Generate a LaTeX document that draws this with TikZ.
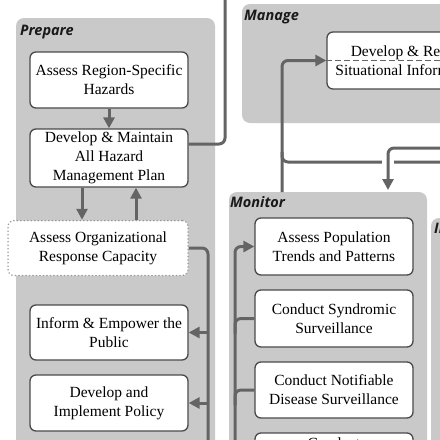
\documentclass[tikz,border=0pt]{standalone}
\usepackage{fontspec}
\setmainfont{Liberation Serif}
\newfontfamily\labfont{Open Sans}
\usetikzlibrary{arrows.meta,calc}
\definecolor{panel}{HTML}{C9C9C9}
\definecolor{linecol}{HTML}{646464}
\definecolor{bord}{HTML}{4A4A4A}
\begin{document}
\begin{tikzpicture}[x=1pt,y=-1pt,
  panelbox/.style={fill=panel, draw=none, rounded corners=8pt},
  plabel/.style={font=\labfont\bfseries\itshape\fontsize{14.5}{16}\selectfont, anchor=base west, inner sep=0pt, text=black!90},
  box/.style={draw=bord, line width=1.3pt, fill=white, rounded corners=6pt, align=center, inner sep=0pt, minimum width=158pt, font=\fontsize{15.5}{19}\selectfont, text=black},
  dotbox/.style={box, draw=gray!80, dash pattern=on 0.3pt off 3.2pt, line cap=round, line width=1.5pt, minimum width=180pt},
  conn/.style={draw=linecol, line width=3pt, rounded corners=6pt},
  arr/.style={conn, -{Triangle[length=11pt,width=11pt]}},
  dline/.style={draw=linecol, line width=1.6pt, dash pattern=on 6pt off 3pt}]
\useasboundingbox (0,0) rectangle (440,440);
\clip (0,0) rectangle (440,440);
\fill[white] (0,0) rectangle (440,440);
% panels
\path[panelbox] (16,18) rectangle (215,470);
\path[panelbox] (242,4) rectangle (480,123);
\path[panelbox] (229,192) rectangle (427,470);
\path[panelbox] (431,218) rectangle (490,470);
\node[plabel] (lprep) at (20,35) {Prepare};
\node[plabel] (lman) at (244,20) {Manage};
\node[plabel] (lmon) at (230,207) {Monitor};
\node[plabel] (lint) at (434,233) {Intervene};
% prepare boxes
\node[box, minimum height=56pt] (b1) at (109,80) {Assess Region-Specific\\Hazards};
\node[box, minimum height=58pt] (b2) at (109,158) {Develop \& Maintain\\All Hazard\\Management Plan};
\node[dotbox, minimum height=55pt] (b3) at (98,248) {Assess Organizational\\Response Capacity};
\node[box, minimum height=55pt] (b4) at (109,332.5) {Inform \& Empower the\\Public};
\node[box, minimum height=56pt] (b5) at (109,403) {Develop and\\Implement Policy};
% manage box
\node[box, minimum width=162pt, minimum height=57pt] (m1) at (408,60.5) {Develop \& Report\\Situational Information};
% monitor boxes
\node[box, minimum height=57pt] (ma) at (334,246.5) {Assess Population\\Trends and Patterns};
\node[box, minimum height=57pt] (mb) at (334,318.5) {Conduct Syndromic\\Surveillance};
\node[box, minimum height=56pt] (mc) at (334,390) {Conduct Notifiable\\Disease Surveillance};
\node[box, minimum height=58pt] (md) at (334,462) {Conduct\\\phantom{X}\\\phantom{X}};
% coordinates
\coordinate (topA) at (225,0);
\coordinate (pr) at (208,470);
\coordinate (ml) at (235,470);
\coordinate (mt) at (282,192);
\coordinate (r1) at (445,162);
\coordinate (r2) at (445,148);
\coordinate (mt2) at (388,190);
% prepare connectors
\draw[arr] (b1.south) -- (b2.north);
\draw[arr] ([xshift=-27pt]b2.south) -- ([xshift=-27pt]b2.south |- b3.north);
\draw[arr] ([xshift=27pt]b2.south |- b3.north) -- ([xshift=27pt]b2.south);
\draw[conn] ([yshift=14pt]b2.east) -| (topA);
\draw[conn] (b3.east) -| (pr);
\draw[arr] (b4.east -| pr) -- (b4.east);
\draw[arr] (b5.east -| pr) -- (b5.east);
% monitor connectors
\draw[arr] (ml) |- (ma.west);
\draw[conn] (mb.west) -| ($(mb.west -| ml)+(0,15)$);
\draw[conn] (mc.west) -| ($(mc.west -| ml)+(0,15)$);
\draw[conn] (md.west) -| ($(md.west -| ml)+(0,15)$);
% manage connectors
\draw[arr] (mt) |- (m1.west);
\draw[dline] (m1.west) -- ++(200,0);
\draw[conn] (r1) -| ($(mt)+(0,-40)$);
\draw[white, line width=4pt] (382,162) -- (394,162);
\draw[arr] (r2) -| (mt2);
\end{tikzpicture}
\end{document}
